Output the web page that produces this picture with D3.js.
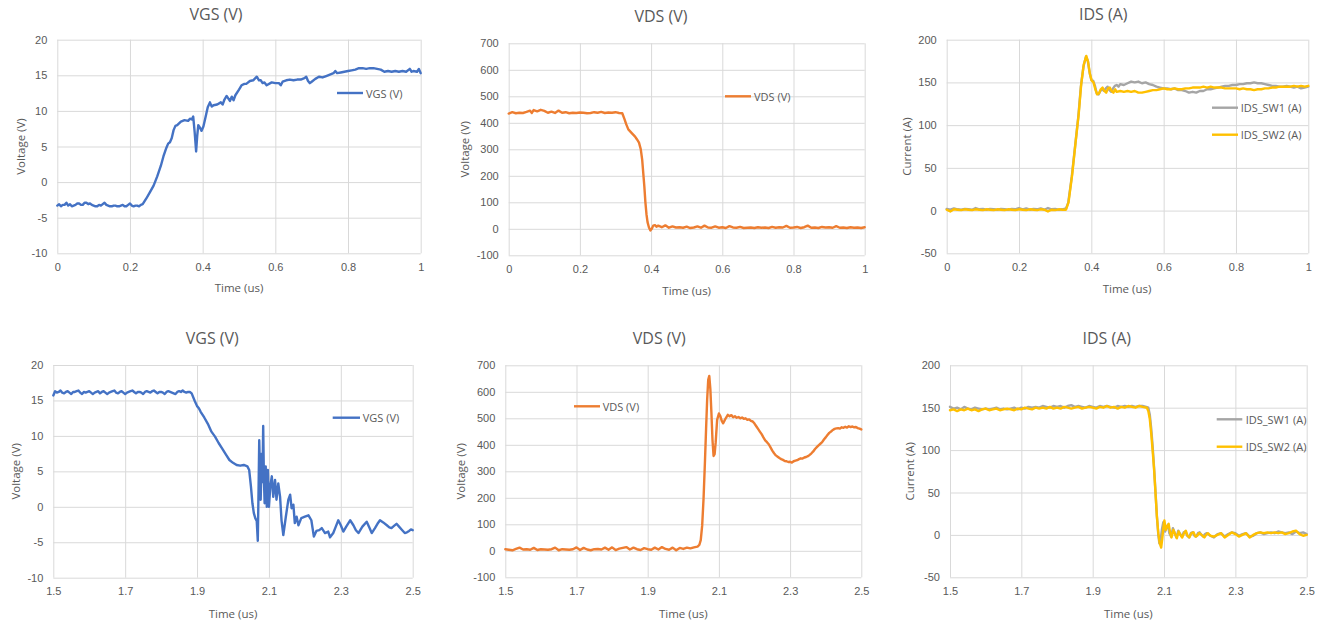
<!DOCTYPE html>
<html>
<head>
<meta charset="utf-8">
<script src="https://cdn.jsdelivr.net/npm/d3@7"></script>
<style>
html,body{margin:0;padding:0;background:#fff;}
svg{display:block;font-family:"Open Sans","Liberation Sans",sans-serif;}
</style>
</head>
<body>
<svg id="chart" width="1323" height="626"></svg>
<script>
// ---------------- DATA ----------------
const xTicksOn = [0, 0.2, 0.4, 0.6, 0.8, 1];
const xTicksOff = [1.5, 1.7, 1.9, 2.1, 2.3, 2.5];
const vgsTicks = [-10, -5, 0, 5, 10, 15, 20];
const vdsTicks = [-100, 0, 100, 200, 300, 400, 500, 600, 700];
const idsTicks = [-50, 0, 50, 100, 150, 200];

const titles = ["VGS (V)", "VDS (V)", "IDS (A)"];
const yTitles = ["Voltage (V)", "Voltage (V)", "Current (A)"];
const xTitle = "Time (us)";
const seriesNames = ["VGS (V)", "VDS (V)", "IDS_SW1 (A)", "IDS_SW2 (A)"];

// turn-on, [time us, value]
const vgsOn = [[0,-3.3],[0.005,-3.1],[0.01,-3.4],[0.015,-3.2],[0.02,-3.2],[0.025,-2.9],[0.03,-3.3],[0.035,-3.1],[0.04,-3.4],[0.045,-3.3],[0.05,-3.2],[0.055,-3.0],[0.06,-3.0],[0.065,-3.2],[0.07,-3.2],[0.075,-2.9],[0.08,-2.9],[0.085,-3.1],[0.09,-3.0],[0.095,-3.2],[0.1,-3.3],[0.105,-3.4],[0.11,-3.4],[0.115,-3.2],[0.12,-3.3],[0.125,-3.1],[0.13,-2.9],[0.135,-3.2],[0.14,-3.3],[0.145,-3.4],[0.15,-3.4],[0.155,-3.3],[0.16,-3.3],[0.165,-3.4],[0.17,-3.4],[0.175,-3.3],[0.18,-3.2],[0.185,-3.4],[0.19,-3.4],[0.195,-3.2],[0.2,-3.0],[0.205,-3.3],[0.21,-3.4],[0.215,-3.3],[0.22,-3.3],[0.225,-3.4],[0.23,-3.2],[0.235,-3.1],[0.245,-2.3],[0.255,-1.4],[0.265,-0.5],[0.275,0.8],[0.285,2.3],[0.292,3.6],[0.3,4.8],[0.305,5.4],[0.31,5.6],[0.315,6.2],[0.32,7.3],[0.325,7.9],[0.33,8.0],[0.34,8.5],[0.35,8.7],[0.36,8.6],[0.365,8.9],[0.37,8.8],[0.374,9.2],[0.378,7.0],[0.382,4.3],[0.385,6.5],[0.388,8.0],[0.393,7.6],[0.397,7.2],[0.402,7.8],[0.406,8.7],[0.41,9.6],[0.414,10.5],[0.42,11.2],[0.425,10.6],[0.43,10.8],[0.44,10.9],[0.45,11.2],[0.455,10.9],[0.46,11.6],[0.466,12.1],[0.47,11.8],[0.475,11.4],[0.48,12.0],[0.485,11.5],[0.49,12.2],[0.5,13.0],[0.507,13.6],[0.515,13.8],[0.52,13.8],[0.53,14.2],[0.539,14.3],[0.545,14.6],[0.549,14.8],[0.555,14.3],[0.56,14.3],[0.565,13.9],[0.57,14.0],[0.576,13.6],[0.59,14.0],[0.6,13.9],[0.61,13.9],[0.615,13.6],[0.62,14.1],[0.63,14.3],[0.64,14.4],[0.65,14.3],[0.66,14.4],[0.67,14.4],[0.68,14.6],[0.685,14.8],[0.69,14.2],[0.695,13.9],[0.7,14.1],[0.71,14.5],[0.72,14.8],[0.73,14.7],[0.74,14.9],[0.75,15.1],[0.76,15.3],[0.765,15.6],[0.77,15.3],[0.78,15.4],[0.79,15.5],[0.8,15.6],[0.81,15.7],[0.82,15.8],[0.83,16.0],[0.84,16.0],[0.85,15.9],[0.86,16.0],[0.87,16.0],[0.88,15.9],[0.89,15.8],[0.9,15.5],[0.91,15.6],[0.92,15.5],[0.93,15.6],[0.94,15.5],[0.95,15.6],[0.96,15.5],[0.97,15.9],[0.975,15.5],[0.98,15.6],[0.99,15.5],[0.995,15.9],[1.0,15.3]];

const vdsOn = [[0,435],[0.01,440],[0.02,436],[0.03,438],[0.04,437],[0.05,441],[0.06,446],[0.065,437],[0.07,448],[0.08,443],[0.09,449],[0.1,445],[0.11,438],[0.12,442],[0.13,437],[0.14,446],[0.15,438],[0.16,440],[0.17,436],[0.18,438],[0.19,437],[0.2,439],[0.21,438],[0.22,436],[0.23,437],[0.24,440],[0.25,438],[0.26,441],[0.27,437],[0.28,439],[0.29,438],[0.3,440],[0.31,437],[0.319,436],[0.325,415],[0.33,395],[0.336,375],[0.345,362],[0.355,348],[0.36,338],[0.366,325],[0.371,300],[0.375,260],[0.378,210],[0.381,160],[0.384,100],[0.387,55],[0.39,25],[0.394,5],[0.398,-6],[0.402,0],[0.406,12],[0.411,14],[0.415,8],[0.42,12],[0.43,6],[0.44,13],[0.45,4],[0.46,9],[0.47,5],[0.48,6],[0.49,4],[0.5,8],[0.51,3],[0.52,5],[0.53,9],[0.54,4],[0.55,12],[0.56,5],[0.57,4],[0.58,9],[0.59,4],[0.6,6],[0.61,3],[0.62,10],[0.63,5],[0.64,4],[0.65,7],[0.66,3],[0.67,4],[0.68,5],[0.69,3],[0.7,6],[0.71,4],[0.72,5],[0.73,3],[0.74,7],[0.75,4],[0.76,6],[0.77,5],[0.78,11],[0.79,4],[0.8,5],[0.81,7],[0.82,3],[0.83,6],[0.84,12],[0.85,4],[0.86,5],[0.87,3],[0.88,7],[0.89,5],[0.9,6],[0.91,4],[0.92,10],[0.93,4],[0.94,5],[0.95,3],[0.96,6],[0.97,4],[0.98,5],[0.99,3],[1.0,6]];

const ids1On = [[0,2],[0.01,1],[0.02,2.5],[0.03,1.5],[0.04,1],[0.05,2],[0.06,1.5],[0.07,1],[0.08,3],[0.09,1.5],[0.1,2],[0.11,1],[0.12,2],[0.13,1.5],[0.14,1],[0.15,2],[0.16,1.5],[0.17,1],[0.18,2],[0.19,1.5],[0.2,3],[0.21,1.5],[0.22,2.5],[0.23,1],[0.24,2],[0.25,1.5],[0.26,2.5],[0.27,1],[0.28,3],[0.29,1.5],[0.3,2],[0.31,1],[0.32,1.5],[0.33,2.5],[0.336,9],[0.346,40],[0.355,75],[0.364,110],[0.371,145],[0.378,168],[0.385,180],[0.39,176],[0.395,162],[0.4,153],[0.405,152],[0.41,146],[0.415,137],[0.42,136],[0.425,140],[0.43,142],[0.435,140],[0.44,143],[0.445,145],[0.45,141],[0.455,139],[0.46,143],[0.465,146],[0.47,147],[0.475,145],[0.48,148],[0.49,147],[0.5,149],[0.51,151],[0.52,150],[0.53,151],[0.54,149],[0.55,150],[0.56,148],[0.57,147],[0.58,145],[0.59,144],[0.6,143],[0.61,143],[0.62,142],[0.63,143],[0.64,141],[0.65,141],[0.66,140],[0.67,138],[0.68,139],[0.69,138],[0.7,140],[0.71,140],[0.72,142],[0.73,142],[0.74,143],[0.75,144],[0.76,145],[0.77,146],[0.78,146],[0.79,147],[0.8,147],[0.81,148],[0.82,148],[0.83,149],[0.84,149],[0.85,150],[0.86,149],[0.87,149],[0.88,148],[0.89,147],[0.9,146],[0.91,146],[0.92,145],[0.93,145],[0.94,146],[0.95,145],[0.96,144],[0.97,145],[0.98,143],[0.99,144],[1.0,145]];

const ids2On = [[0,1],[0.01,-1],[0.02,1.5],[0.03,1],[0.04,0.5],[0.05,1.5],[0.06,1],[0.07,0.5],[0.08,1.5],[0.09,1],[0.1,0.5],[0.11,1.5],[0.12,1],[0.13,0.5],[0.14,1.5],[0.15,1],[0.16,0.5],[0.17,1.5],[0.18,1],[0.19,0.5],[0.2,1.5],[0.21,1],[0.22,0.5],[0.23,1.5],[0.24,1],[0.25,0.5],[0.26,1.5],[0.27,1],[0.28,-1],[0.29,1],[0.3,0.5],[0.31,1.5],[0.32,1],[0.33,1],[0.337,10],[0.347,42],[0.356,78],[0.365,113],[0.372,148],[0.379,171],[0.386,181],[0.391,174],[0.396,160],[0.401,152],[0.406,150],[0.411,142],[0.416,136],[0.421,137],[0.426,142],[0.431,144],[0.436,140],[0.441,138],[0.446,143],[0.451,144],[0.456,140],[0.461,138],[0.466,142],[0.47,139],[0.48,140],[0.49,139],[0.5,140],[0.51,139],[0.52,140],[0.53,138],[0.54,138],[0.55,139],[0.56,140],[0.57,141],[0.58,141],[0.59,142],[0.6,143],[0.61,142],[0.62,142],[0.63,143],[0.64,142],[0.65,142],[0.66,143],[0.67,143],[0.68,144],[0.69,144],[0.7,144],[0.71,145],[0.72,144],[0.73,145],[0.74,144],[0.75,144],[0.76,144],[0.77,143],[0.78,143],[0.79,143],[0.8,143],[0.81,142],[0.82,143],[0.83,142],[0.84,142],[0.85,141],[0.86,142],[0.87,142],[0.88,143],[0.89,143],[0.9,144],[0.91,144],[0.92,145],[0.93,145],[0.94,145],[0.95,145],[0.96,146],[0.97,145],[0.98,146],[0.99,145],[1.0,146]];

// turn-off, [time us, value]
const vgsOff = [[1.5,15.7],[1.505,16.3],[1.51,16.1],[1.515,16.2],[1.52,16.4],[1.525,16.1],[1.53,16.0],[1.535,16.2],[1.54,16.3],[1.545,16.1],[1.55,15.9],[1.555,16.2],[1.56,16.2],[1.565,16.3],[1.57,16.4],[1.575,16.1],[1.58,15.9],[1.585,16.2],[1.59,16.1],[1.595,16.2],[1.6,16.3],[1.605,16.1],[1.61,15.9],[1.615,16.1],[1.62,16.2],[1.625,16.3],[1.63,16.0],[1.635,16.2],[1.64,16.3],[1.645,16.1],[1.65,15.9],[1.655,16.1],[1.66,16.2],[1.665,16.3],[1.67,16.4],[1.675,16.1],[1.68,16.0],[1.685,16.2],[1.69,16.3],[1.695,16.1],[1.7,15.9],[1.705,16.1],[1.71,16.2],[1.715,16.3],[1.72,16.4],[1.725,16.2],[1.73,16.0],[1.735,16.2],[1.74,16.2],[1.745,16.1],[1.75,15.9],[1.755,16.2],[1.76,16.3],[1.765,16.2],[1.77,16.1],[1.775,16.3],[1.78,16.4],[1.785,16.2],[1.79,16.0],[1.795,16.2],[1.8,16.2],[1.805,16.1],[1.81,15.9],[1.815,16.2],[1.82,16.3],[1.825,16.2],[1.83,16.1],[1.835,16.0],[1.84,15.9],[1.845,16.2],[1.85,16.3],[1.855,16.2],[1.86,16.4],[1.865,16.2],[1.87,16.1],[1.875,16.2],[1.88,16.2],[1.885,16.0],[1.893,15.0],[1.9,14.2],[1.905,13.9],[1.91,13.4],[1.92,12.6],[1.93,11.7],[1.94,10.6],[1.95,9.9],[1.96,9.0],[1.97,8.2],[1.98,7.4],[1.99,6.6],[2.0,6.2],[2.01,5.9],[2.02,5.8],[2.03,5.9],[2.04,5.7],[2.045,5.2],[2.05,2.8],[2.054,0.5],[2.058,-0.9],[2.062,-1.6],[2.066,-2.0],[2.069,-4.8],[2.071,2.0],[2.073,9.4],[2.075,5.0],[2.077,1.0],[2.08,7.5],[2.082,3.5],[2.084,11.4],[2.086,4.0],[2.088,0.5],[2.091,5.7],[2.094,0.0],[2.097,5.2],[2.1,0.0],[2.104,3.0],[2.108,4.3],[2.112,1.4],[2.117,3.8],[2.121,1.0],[2.126,3.3],[2.131,1.4],[2.135,-1.9],[2.14,-4.0],[2.147,-1.4],[2.154,1.0],[2.159,1.7],[2.163,-0.2],[2.168,0.3],[2.172,-2.3],[2.177,-1.4],[2.182,-2.6],[2.19,-1.6],[2.2,-1.4],[2.21,-1.2],[2.218,-1.9],[2.225,-4.2],[2.232,-3.4],[2.24,-3.3],[2.247,-3.0],[2.256,-3.7],[2.265,-3.5],[2.27,-4.3],[2.279,-3.7],[2.286,-2.8],[2.293,-1.9],[2.3,-2.6],[2.307,-3.5],[2.315,-2.8],[2.326,-1.9],[2.335,-2.6],[2.342,-3.3],[2.349,-3.7],[2.36,-2.8],[2.372,-2.1],[2.38,-3.0],[2.386,-3.7],[2.395,-3.0],[2.402,-2.4],[2.409,-1.9],[2.418,-2.2],[2.428,-2.6],[2.435,-2.9],[2.441,-3.0],[2.448,-2.7],[2.455,-2.4],[2.462,-2.8],[2.469,-3.2],[2.478,-3.7],[2.484,-3.6],[2.49,-3.4],[2.495,-3.2],[2.5,-3.3]];

const vdsOff = [[1.5,6],[1.51,4],[1.52,2],[1.53,7],[1.54,12],[1.55,5],[1.56,6],[1.57,4],[1.58,11],[1.59,3],[1.6,6],[1.61,5],[1.62,4],[1.63,6],[1.64,12],[1.65,2],[1.66,6],[1.67,5],[1.68,4],[1.69,6],[1.7,13],[1.71,3],[1.72,11],[1.73,5],[1.74,2],[1.75,6],[1.76,7],[1.77,5],[1.78,12],[1.79,4],[1.8,13],[1.81,3],[1.82,8],[1.83,11],[1.84,14],[1.85,5],[1.86,12],[1.87,6],[1.88,3],[1.89,10],[1.9,6],[1.91,4],[1.92,12],[1.93,5],[1.94,14],[1.95,7],[1.96,4],[1.97,12],[1.98,2],[1.99,11],[2.0,7],[2.01,12],[2.02,9],[2.03,13],[2.04,16],[2.045,22],[2.049,40],[2.053,95],[2.057,200],[2.061,343],[2.064,460],[2.067,570],[2.07,645],[2.073,660],[2.076,610],[2.079,520],[2.082,418],[2.085,358],[2.088,365],[2.091,410],[2.095,494],[2.1,518],[2.104,508],[2.108,490],[2.112,481],[2.116,492],[2.12,502],[2.125,513],[2.13,508],[2.135,512],[2.14,504],[2.145,508],[2.15,502],[2.155,505],[2.16,500],[2.165,503],[2.17,498],[2.175,500],[2.18,494],[2.185,496],[2.19,490],[2.195,488],[2.2,480],[2.205,470],[2.21,460],[2.215,450],[2.22,440],[2.225,428],[2.23,417],[2.235,410],[2.24,402],[2.245,390],[2.25,378],[2.255,368],[2.26,360],[2.265,355],[2.27,350],[2.275,346],[2.28,343],[2.285,339],[2.29,338],[2.295,335],[2.3,336],[2.305,333],[2.31,338],[2.315,340],[2.32,342],[2.325,346],[2.33,349],[2.335,348],[2.34,352],[2.345,354],[2.35,357],[2.355,362],[2.36,368],[2.365,375],[2.37,384],[2.375,391],[2.38,398],[2.385,404],[2.39,410],[2.395,420],[2.4,428],[2.405,437],[2.41,445],[2.415,450],[2.42,456],[2.425,460],[2.43,462],[2.435,463],[2.44,461],[2.445,466],[2.45,464],[2.455,468],[2.46,465],[2.465,470],[2.47,467],[2.475,469],[2.48,466],[2.485,467],[2.49,463],[2.495,461],[2.5,458]];

const ids1Off = [[1.5,151],[1.51,149],[1.52,150],[1.53,148],[1.54,151],[1.55,149],[1.56,148],[1.57,150],[1.58,149],[1.59,148],[1.6,149],[1.61,148],[1.62,149],[1.63,150],[1.64,148],[1.65,149],[1.66,148],[1.67,149],[1.68,150],[1.69,148],[1.7,150],[1.71,149],[1.72,151],[1.73,150],[1.74,151],[1.75,150],[1.76,152],[1.77,151],[1.78,150],[1.79,152],[1.8,151],[1.81,152],[1.82,150],[1.83,152],[1.84,153],[1.85,151],[1.86,152],[1.87,151],[1.88,150],[1.89,152],[1.9,151],[1.91,150],[1.92,152],[1.93,151],[1.94,152],[1.95,151],[1.96,150],[1.97,152],[1.98,151],[1.99,152],[2.0,151],[2.01,152],[2.02,151],[2.03,152],[2.04,152],[2.05,151],[2.056,150],[2.06,142],[2.064,126],[2.068,105],[2.072,80],[2.076,52],[2.08,22],[2.084,0],[2.087,-10],[2.09,-8],[2.094,6],[2.098,15],[2.103,4],[2.107,9],[2.111,12],[2.115,2],[2.12,-2],[2.125,8],[2.13,2],[2.135,-3],[2.14,5],[2.145,1],[2.15,-2],[2.155,3],[2.16,4],[2.165,-1],[2.17,-3],[2.175,2],[2.18,3],[2.185,-1],[2.19,-2],[2.195,2],[2.2,3],[2.205,0],[2.21,-2],[2.215,1],[2.22,2],[2.23,-1],[2.24,-3],[2.25,1],[2.26,2],[2.27,-2],[2.28,1],[2.29,3],[2.3,2],[2.31,-1],[2.32,1],[2.33,2],[2.34,-2],[2.35,-1],[2.36,2],[2.37,3],[2.38,1],[2.39,2],[2.4,3],[2.41,2],[2.42,4],[2.43,3],[2.44,2],[2.45,3],[2.46,1],[2.47,4],[2.48,2],[2.49,3],[2.5,1]];

const ids2Off = [[1.5,147],[1.51,148],[1.52,146],[1.53,148],[1.54,147],[1.55,149],[1.56,147],[1.57,148],[1.58,146],[1.59,148],[1.6,149],[1.61,147],[1.62,148],[1.63,149],[1.64,147],[1.65,148],[1.66,149],[1.67,148],[1.68,147],[1.69,149],[1.7,148],[1.71,150],[1.72,149],[1.73,148],[1.74,150],[1.75,149],[1.76,150],[1.77,149],[1.78,151],[1.79,149],[1.8,150],[1.81,149],[1.82,151],[1.83,150],[1.84,149],[1.85,150],[1.86,151],[1.87,149],[1.88,150],[1.89,151],[1.9,150],[1.91,149],[1.92,151],[1.93,150],[1.94,152],[1.95,150],[1.96,151],[1.97,149],[1.98,151],[1.99,150],[2.0,152],[2.01,151],[2.02,150],[2.03,152],[2.04,151],[2.052,150],[2.056,146],[2.06,137],[2.064,120],[2.068,100],[2.072,78],[2.076,50],[2.08,22],[2.084,2],[2.088,-10],[2.092,-15],[2.095,-5],[2.098,8],[2.101,17],[2.105,6],[2.109,10],[2.113,13],[2.117,3],[2.121,-3],[2.126,6],[2.131,1],[2.136,-4],[2.141,4],[2.146,0],[2.151,-3],[2.156,2],[2.161,5],[2.166,-1],[2.171,-3],[2.177,2],[2.183,3],[2.188,-2],[2.193,-1],[2.198,2],[2.203,1],[2.208,-1],[2.213,-3],[2.218,0],[2.223,2],[2.23,-1],[2.24,-2],[2.25,0],[2.26,2],[2.27,-3],[2.28,0],[2.29,3],[2.3,1],[2.31,-2],[2.32,0],[2.33,2],[2.34,-3],[2.35,0],[2.36,2],[2.37,3],[2.38,2],[2.39,3],[2.4,2],[2.41,3],[2.42,2],[2.43,3],[2.44,1],[2.45,2],[2.46,4],[2.47,5],[2.48,1],[2.49,-1],[2.5,0]];

// ---------------- LAYOUT ----------------
const colors = {vgs:"#4472C4", vds:"#ED7D31", sw1:"#A5A5A5", sw2:"#FFC000"};
const textColor = "#595959";
const gridColor = "#D9D9D9";

const panels = [
  {plot:[57.3,420.7,39.7,253.3], title:[216,13.5], yt:20, xt:[239,287], xd:[0,1], xTicks:xTicksOn, yd:[-10,20], yTicks:vgsTicks, ti:0,
   series:[{data:vgsOn,c:colors.vgs,name:seriesNames[0]}], leg:[337,363,366,[93]]},
  {plot:[508.7,864.7,43.3,255.3], title:[661,16], yt:464, xt:[686.7,290], xd:[0,1], xTicks:xTicksOn, yd:[-100,700], yTicks:vdsTicks, ti:1,
   series:[{data:vdsOn,c:colors.vds,name:seriesNames[1]}], leg:[725,751,754,[96.3]]},
  {plot:[946.7,1308.3,39.7,253.3], title:[1103.3,13.5], yt:906, xt:[1127,288], xd:[0,1], xTicks:xTicksOn, yd:[-50,200], yTicks:idsTicks, ti:2,
   series:[{data:ids1On,c:colors.sw1,name:seriesNames[2]},{data:ids2On,c:colors.sw2,name:seriesNames[3]}], leg:[1212,1238,1240.7,[107.7,134.7]]},
  {plot:[53.3,412.7,365,577.7], title:[212.3,338.3], yt:15, xt:[233,613.3], xd:[1.5,2.5], xTicks:xTicksOff, yd:[-10,20], yTicks:vgsTicks, ti:0,
   series:[{data:vgsOff,c:colors.vgs,name:seriesNames[0]}], leg:[332.7,360,362.7,[417.7]]},
  {plot:[505.3,861.3,365.3,577.3], title:[659.3,338.3], yt:460.7, xt:[683.3,613.3], xd:[1.5,2.5], xTicks:xTicksOff, yd:[-100,700], yTicks:vdsTicks, ti:1,
   series:[{data:vdsOff,c:colors.vds,name:seriesNames[1]}], leg:[574,600,602.7,[406.3]]},
  {plot:[950,1306.7,365.3,577.3], title:[1106.7,338.3], yt:909.3, xt:[1128.3,613.3], xd:[1.5,2.5], xTicks:xTicksOff, yd:[-50,200], yTicks:idsTicks, ti:2,
   series:[{data:ids1Off,c:colors.sw1,name:seriesNames[2]},{data:ids2Off,c:colors.sw2,name:seriesNames[3]}], leg:[1216.7,1242.3,1245.7,[419.3,446.7]]}
];

const svg = d3.select("#chart");
svg.append("rect").attr("width",1323).attr("height",626).attr("fill","#fff");

panels.forEach(p => {
  const [L,R,T,B] = p.plot;
  const x = d3.scaleLinear().domain(p.xd).range([L,R]);
  const y = d3.scaleLinear().domain(p.yd).range([B,T]);
  const g = svg.append("g");

  const ya = g.append("g").attr("transform",`translate(${L},0)`)
    .call(d3.axisLeft(y).tickValues(p.yTicks).tickSize(-(R-L)).tickPadding(10).tickFormat(d=>String(d)));
  ya.select(".domain").remove();
  ya.selectAll("line").attr("stroke",gridColor).attr("stroke-width",1);
  ya.selectAll("text").attr("fill",textColor).attr("font-size","11px");

  const xa = g.append("g").attr("transform",`translate(0,${B})`)
    .call(d3.axisBottom(x).tickValues(p.xTicks).tickSize(-(B-T)).tickPadding(10).tickFormat(d=>String(d)));
  xa.select(".domain").remove();
  xa.selectAll("line").attr("stroke",gridColor).attr("stroke-width",1);
  xa.selectAll("text").attr("fill",textColor).attr("font-size","11px");

  const line = d3.line().x(d=>x(d[0])).y(d=>y(d[1]));
  p.series.forEach(s => {
    g.append("path").datum(s.data).attr("d",line)
      .attr("fill","none").attr("stroke",s.c).attr("stroke-width",2.4)
      .attr("stroke-linejoin","round").attr("stroke-linecap","round");
  });

  g.append("text").attr("x",p.title[0]).attr("y",p.title[1])
    .attr("text-anchor","middle").attr("dominant-baseline","central")
    .attr("font-size","16px").attr("fill",textColor).text(titles[p.ti]);

  g.append("text").attr("transform",`translate(${p.yt},${(T+B)/2}) rotate(-90)`)
    .attr("text-anchor","middle").attr("dominant-baseline","central")
    .attr("font-size","11.5px").attr("fill",textColor).text(yTitles[p.ti]);

  g.append("text").attr("x",p.xt[0]).attr("y",p.xt[1])
    .attr("text-anchor","middle").attr("dominant-baseline","central")
    .attr("font-size","11.5px").attr("fill",textColor).text(xTitle);

  p.series.forEach((s,i) => {
    const ly = p.leg[3][i];
    g.append("line").attr("x1",p.leg[0]).attr("x2",p.leg[1]).attr("y1",ly).attr("y2",ly)
      .attr("stroke",s.c).attr("stroke-width",2.4);
    g.append("text").attr("x",p.leg[2]).attr("y",ly).attr("dominant-baseline","central")
      .attr("font-size","11px").attr("fill",textColor).text(s.name);
  });
});
</script>
</body>
</html>
